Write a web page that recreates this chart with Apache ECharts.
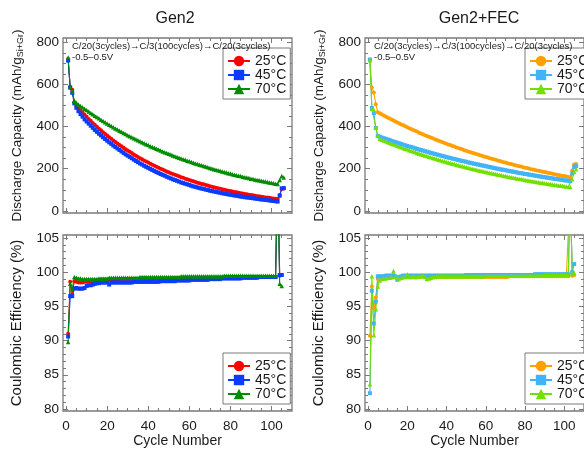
<!DOCTYPE html>
<html>
<head>
<meta charset="utf-8">
<title>Gen2 vs Gen2+FEC cycling</title>
<script src="https://cdn.jsdelivr.net/npm/echarts@6/dist/echarts.min.js"></script>
<style>
  html, body { margin: 0; padding: 0; background: #fff; }
  #chart { width: 584px; height: 449px; }
</style>
</head>
<body>
<div id="chart"></div>
<script>
// values, one entry per cycle (cycle 1 first)
const temps = ['25°C', '45°C', '70°C'];
const xMajor = [0, 20, 40, 60, 80, 100];
const xMinor = [5, 10, 15, 25, 30, 35, 45, 50, 55, 65, 70, 75, 85, 90, 95, 105];
const capMajor = [0, 200, 400, 600, 800];
const capMinor = [50, 100, 150, 250, 300, 350, 450, 500, 550, 650, 700, 750];
const ceMajor = [80, 85, 90, 95, 100, 105];
const ceMinor = [81, 82, 83, 84, 86, 87, 88, 89, 91, 92, 93, 94, 96, 97, 98, 99, 101, 102, 103, 104];

// discharge capacity, mAh/g (Gen2)
const capGen2_25 = [720, 588, 575,
  515, 499, 488, 477, 467, 456, 446, 436, 427, 417,
  408, 399, 390, 382, 373, 365, 357, 349, 342, 334,
  327, 320, 313, 306, 299, 292, 286, 280, 274, 267,
  262, 256, 250, 245, 239, 234, 229, 224, 219, 214,
  209, 205, 200, 196, 192, 187, 183, 179, 175, 171,
  168, 164, 160, 157, 153, 150, 147, 143, 140, 137,
  134, 131, 128, 126, 123, 120, 117, 115, 112, 110,
  107, 105, 103, 100, 98, 96, 94, 92, 90, 88,
  86, 84, 82, 80, 79, 77, 75, 74, 72, 70,
  69, 67, 66, 64, 63, 62, 60, 59, 58, 56,
  75, 104, 106];
const capGen2_45 = [713, 585, 560,
  510, 489, 473, 459, 447, 434, 424, 414, 404, 394,
  384, 375, 366, 358, 349, 341, 333, 325, 318, 310,
  303, 296, 289, 282, 275, 268, 262, 256, 250, 243,
  237, 231, 225, 220, 214, 209, 204, 199, 194, 189,
  184, 180, 175, 171, 167, 162, 158, 154, 150, 146,
  143, 139, 135, 132, 129, 126, 123, 119, 116, 114,
  111, 108, 106, 104, 101, 99, 96, 94, 92, 90,
  88, 86, 84, 82, 80, 78, 77, 75, 73, 72,
  70, 68, 67, 65, 64, 63, 61, 60, 59, 57,
  56, 54, 54, 52, 51, 50, 48, 47, 46, 44,
  72, 107, 108];
const capGen2_70 = [727, 586, 566,
  522, 513, 505, 498, 491, 484, 478, 471, 464, 458,
  451, 445, 439, 432, 426, 420, 414, 408, 403, 397,
  391, 386, 380, 375, 370, 365, 359, 354, 349, 345,
  340, 335, 330, 325, 321, 316, 312, 307, 303, 299,
  295, 291, 286, 282, 278, 275, 271, 267, 263, 259,
  256, 252, 249, 245, 242, 238, 235, 232, 228, 225,
  222, 219, 216, 213, 210, 207, 204, 201, 198, 195,
  193, 190, 187, 184, 182, 179, 177, 174, 172, 169,
  167, 165, 162, 160, 158, 156, 153, 151, 149, 147,
  145, 143, 141, 139, 137, 135, 133, 131, 129, 128,
  146, 165, 158];

// discharge capacity, mAh/g (Gen2+FEC)
const capFEC_25 = [715, 585, 562, 506,
  468, 463, 458, 453, 448, 443, 438, 433, 429, 424,
  419, 415, 410, 406, 401, 397, 392, 388, 384, 380,
  376, 371, 367, 363, 359, 355, 352, 348, 344, 340,
  336, 333, 329, 326, 322, 318, 315, 312, 308, 305,
  301, 298, 295, 292, 288, 285, 282, 279, 276, 273,
  270, 267, 264, 261, 258, 256, 253, 250, 247, 245,
  242, 239, 237, 234, 231, 229, 226, 224, 222, 219,
  217, 214, 212, 210, 207, 205, 203, 201, 198, 196,
  194, 192, 190, 188, 186, 184, 182, 180, 178, 176,
  174, 172, 170, 168, 166, 165, 163, 161, 159,
  192, 220, 222];
const capFEC_45 = [718, 488, 464, 393,
  355, 352, 348, 345, 342, 339, 336, 332, 329, 326,
  323, 320, 317, 314, 311, 308, 305, 303, 300, 297,
  294, 291, 289, 286, 283, 281, 278, 275, 273, 270,
  268, 265, 263, 260, 258, 255, 253, 251, 248, 246,
  244, 241, 239, 237, 235, 233, 230, 228, 226, 224,
  222, 220, 218, 216, 214, 212, 210, 208, 206, 204,
  202, 200, 198, 196, 195, 193, 191, 189, 187, 186,
  184, 182, 180, 179, 177, 175, 174, 172, 171, 169,
  167, 166, 164, 163, 161, 160, 158, 157, 155, 154,
  152, 151, 150, 148, 147, 145, 144, 143, 141,
  178, 208, 212];
const capFEC_70 = [715, 485, 480, 395, 358,
  342, 338, 334, 330, 327, 323, 319, 316, 312, 309,
  305, 302, 298, 295, 292, 288, 285, 282, 279, 275,
  272, 269, 266, 263, 260, 257, 254, 251, 249, 246,
  243, 240, 237, 235, 232, 230, 227, 224, 222, 219,
  217, 214, 212, 210, 207, 205, 202, 200, 198, 196,
  193, 191, 189, 187, 185, 183, 181, 179, 177, 175,
  173, 171, 169, 167, 165, 163, 161, 159, 158, 156,
  154, 152, 151, 149, 147, 145, 144, 142, 141, 139,
  137, 136, 134, 133, 131, 130, 128, 127, 125, 124,
  123, 121, 120, 119, 117, 116, 115, 113,
  150, 185, 198];

// coulombic efficiency, % (Gen2)
const ceGen2_25 = [
  91.0, 98.6, 96.8, 98.7, 98.6, 98.5, 98.5, 98.5, 98.6, 98.6,
  98.7, 98.7, 98.7, 98.8, 98.8, 98.8, 98.8, 98.9, 98.9, 98.9,
  98.9, 98.9, 98.9, 98.9, 98.9, 99.0, 99.0, 99.0, 99.0, 99.0,
  99.0, 99.0, 99.0, 98.9, 98.9, 98.8, 98.8, 98.9, 98.9, 98.9,
  99.0, 99.0, 99.0, 99.0, 99.0, 99.0, 99.0, 99.0, 99.0, 99.0,
  99.0, 99.1, 99.1, 99.1, 99.1, 99.1, 99.1, 99.1, 99.1, 99.1,
  99.1, 99.1, 99.1, 99.1, 99.1, 99.1, 99.1, 99.2, 99.2, 99.2,
  99.2, 99.2, 99.2, 99.2, 99.2, 99.2, 99.2, 99.2, 99.2, 99.2,
  99.2, 99.2, 99.3, 99.3, 99.3, 99.3, 99.3, 99.3, 99.3, 99.3,
  99.3, 99.3, 99.3, 99.3, 99.3, 99.3, 99.3, 99.3, 99.3, 99.3,
  99.3, 99.3, 115, 99.5, 99.6];
const ceGen2_45 = [
  90.6, 96.5, 96.5, 97.6, 97.7, 97.6, 97.6, 97.6, 97.7, 98.0,
  98.1, 98.1, 98.2, 98.3, 98.4, 98.4, 98.5, 98.5, 98.5, 98.5,
  98.2, 98.5, 98.5, 98.5, 98.5, 98.5, 98.5, 98.5, 98.5, 98.5,
  98.5, 98.5, 98.6, 98.6, 98.6, 98.6, 98.6, 98.6, 98.6, 98.6,
  98.6, 98.6, 98.6, 98.6, 98.6, 98.7, 98.7, 98.7, 98.7, 98.7,
  98.7, 98.7, 98.7, 98.8, 98.8, 98.8, 98.8, 98.8, 98.8, 98.8,
  98.9, 98.9, 98.9, 98.9, 98.9, 98.9, 98.9, 98.9, 98.9, 99.0,
  99.0, 99.0, 99.0, 99.0, 99.0, 99.1, 99.1, 99.1, 99.1, 99.1,
  99.1, 99.1, 99.1, 99.1, 99.1, 99.2, 99.2, 99.2, 99.2, 99.2,
  99.2, 99.2, 99.2, 99.3, 99.3, 99.3, 99.3, 99.3, 99.3, 99.3,
  99.3, 99.3, 115, 99.6, 99.6];
const ceGen2_70 = [
  89.8, 98.3, 97.5, 99.3, 99.2, 99.1, 99.1, 99.0, 99.0, 99.0,
  99.0, 99.0, 99.0, 99.0, 99.0, 99.1, 99.1, 99.1, 99.1, 99.1,
  99.2, 99.2, 99.2, 99.2, 99.2, 99.2, 99.2, 99.2, 99.2, 99.2,
  99.2, 99.2, 99.2, 99.2, 99.2, 99.3, 99.3, 99.3, 99.3, 99.3,
  99.3, 99.3, 99.3, 99.3, 99.3, 99.3, 99.3, 99.3, 99.3, 99.3,
  99.3, 99.3, 99.3, 99.3, 99.3, 99.4, 99.4, 99.4, 99.4, 99.4,
  99.4, 99.4, 99.4, 99.4, 99.4, 99.4, 99.4, 99.4, 99.4, 99.4,
  99.4, 99.4, 99.4, 99.4, 99.4, 99.4, 99.5, 99.5, 99.5, 99.5,
  99.5, 99.5, 99.5, 99.5, 99.5, 99.5, 99.5, 99.5, 99.5, 99.5,
  99.5, 99.5, 99.5, 99.5, 99.5, 99.5, 99.5, 99.5, 99.5, 99.5,
  99.5, 99.5, 115, 98.3, 98.0];

// coulombic efficiency, % (Gen2+FEC)
const ceFEC_25 = [
  90.7, 97.9, 94.8, 96.3, 99.0, 99.2, 99.2, 99.2, 99.2, 99.3,
  99.3, 99.2, 99.3, 99.3, 99.2, 99.3, 99.3, 99.3, 99.3, 99.4,
  99.3, 99.3, 99.3, 99.3, 99.3, 99.3, 99.3, 99.4, 99.3, 99.2,
  99.3, 99.3, 99.3, 99.3, 99.3, 99.3, 99.3, 99.3, 99.3, 99.3,
  99.3, 99.3, 99.3, 99.3, 99.3, 99.3, 99.3, 99.3, 99.3, 99.3,
  99.3, 99.3, 99.3, 99.3, 99.3, 99.4, 99.3, 99.3, 99.3, 99.3,
  99.3, 99.3, 99.3, 99.3, 99.3, 99.3, 99.3, 99.3, 99.3, 99.3,
  99.3, 99.4, 99.4, 99.4, 99.4, 99.4, 99.4, 99.4, 99.4, 99.4,
  99.4, 99.4, 99.4, 99.4, 99.4, 99.4, 99.4, 99.4, 99.4, 99.4,
  99.4, 99.4, 99.4, 99.4, 99.4, 99.4, 99.4, 99.4, 99.4, 99.4,
  99.4, 99.4, 112, 99.5, 99.6];
const ceFEC_45 = [
  82.3, 97.3, 92.5, 95.7, 99.4, 99.4, 99.4, 99.4, 99.5, 99.5,
  99.5, 99.5, 99.5, 99.4, 98.9, 99.3, 99.4, 99.5, 99.5, 99.5,
  99.5, 99.5, 99.5, 99.5, 99.5, 99.5, 99.5, 99.5, 99.5, 99.5,
  99.5, 99.5, 99.5, 99.5, 99.5, 99.5, 99.5, 99.5, 99.5, 99.5,
  99.5, 99.5, 99.5, 99.5, 99.5, 99.5, 99.5, 99.5, 99.5, 99.6,
  99.6, 99.6, 99.6, 99.6, 99.6, 99.6, 99.6, 99.6, 99.6, 99.6,
  99.6, 99.6, 99.6, 99.6, 99.6, 99.6, 99.6, 99.6, 99.6, 99.6,
  99.6, 99.6, 99.6, 99.6, 99.6, 99.6, 99.6, 99.6, 99.6, 99.6,
  99.6, 99.6, 99.6, 99.6, 99.7, 99.7, 99.7, 99.7, 99.7, 99.7,
  99.7, 99.7, 99.7, 99.7, 99.7, 99.7, 99.7, 99.7, 99.7, 99.7,
  99.7, 99.7, 112, 100.0, 101.2];
const ceFEC_70 = [
  83.6, 99.4, 90.8, 94.6, 97.9, 98.8, 99.0, 99.1, 99.1, 99.2,
  99.2, 99.3, 100.2, 99.3, 99.2, 99.1, 99.2, 99.3, 99.3, 99.7,
  99.3, 99.3, 99.4, 99.3, 99.3, 99.4, 99.4, 99.6, 99.3, 99.0,
  99.1, 99.2, 99.3, 99.3, 99.4, 99.4, 99.4, 99.4, 99.4, 99.4,
  99.4, 99.4, 99.4, 99.4, 99.4, 99.4, 99.4, 99.4, 99.4, 99.4,
  99.4, 99.4, 99.4, 99.4, 99.4, 99.4, 99.4, 99.4, 99.4, 99.5,
  99.5, 99.5, 99.5, 99.5, 99.5, 99.5, 99.5, 99.5, 99.5, 99.5,
  99.5, 99.5, 99.5, 99.5, 99.5, 99.5, 99.5, 99.5, 99.5, 99.5,
  99.5, 99.5, 99.5, 99.5, 99.5, 99.5, 99.5, 99.5, 99.5, 99.6,
  99.6, 99.6, 99.6, 99.6, 99.6, 99.6, 99.6, 99.6, 99.6, 99.6,
  99.6, 99.6, 112, 99.8, 99.9];

const font = '"Liberation Sans", Arial, sans-serif';
const gray = '#7a7a7a';
const ink = '#1a1a1a';

const panels = [
  { prefix: 'Gen2', colors: ['#ff0000', '#0a3cff', '#008c00'], left: 63,
    cap: [capGen2_25, capGen2_45, capGen2_70], ce: [ceGen2_25, ceGen2_45, ceGen2_70] },
  { prefix: 'FEC', colors: ['#ffa000', '#40b4f8', '#70e000'], left: 365,
    cap: [capFEC_25, capFEC_45, capFEC_70], ce: [ceFEC_25, ceFEC_45, ceFEC_70] }
];
const symbols = ['circle', 'rect', 'triangle'];

const grids = [];
const xAxis = [];
const yAxis = [];
const series = [];
const legend = [];

function tick(vals, len) {
  return { inside: true, length: len, customValues: vals, lineStyle: { color: gray, width: 1 } };
}

function addXAxes(g, labels) {
  const base = { type: 'value', gridIndex: g, min: -1.5, max: 110, splitLine: { show: false },
    axisLine: { show: false, onZero: false } };
  xAxis.push(Object.assign({}, base, { position: 'bottom', axisTick: tick(xMajor, 5),
    axisLabel: { show: labels, customValues: xMajor, margin: 8, fontSize: 13.5, color: ink, fontFamily: font },
    name: labels ? 'Cycle Number' : '', nameLocation: 'middle', nameGap: 23,
    nameTextStyle: { fontSize: 14, color: ink, fontFamily: font } }));
  xAxis.push(Object.assign({}, base, { position: 'bottom', axisTick: tick(xMinor, 3), axisLabel: { show: false } }));
  xAxis.push(Object.assign({}, base, { position: 'top', axisTick: tick(xMajor, 5), axisLabel: { show: false } }));
  xAxis.push(Object.assign({}, base, { position: 'top', axisTick: tick(xMinor, 3), axisLabel: { show: false } }));
}

function addYAxes(g, min, max, major, minor, name, nameSize, nameGap) {
  const base = { type: 'value', gridIndex: g, min: min, max: max, splitLine: { show: false },
    axisLine: { show: false, onZero: false } };
  yAxis.push(Object.assign({}, base, { position: 'left', axisTick: tick(major, 5),
    axisLabel: { customValues: major, margin: 4, fontSize: 13.5, color: ink, fontFamily: font },
    name: name, nameLocation: 'middle', nameGap: nameGap,
    nameTextStyle: { color: ink, fontFamily: font, fontSize: nameSize,
      rich: { t: { fontSize: nameSize, color: ink, fontFamily: font },
              s: { fontSize: 9, color: ink, fontFamily: font, padding: [7, 0, 0, 0] } } } }));
  yAxis.push(Object.assign({}, base, { position: 'left', axisTick: tick(minor, 3), axisLabel: { show: false } }));
  yAxis.push(Object.assign({}, base, { position: 'right', axisTick: tick(major, 5), axisLabel: { show: false } }));
  yAxis.push(Object.assign({}, base, { position: 'right', axisTick: tick(minor, 3), axisLabel: { show: false } }));
}

panels.forEach(p => {
  const names = temps.map(t => p.prefix + ' ' + t);
  [['cap', 38, 175], ['ce', 235, 178]].forEach(([kind, top, height]) => {
    const g = grids.length;
    grids.push({ left: p.left, top: top, width: 229, height: height, show: true,
      borderColor: gray, borderWidth: 1.3, backgroundColor: 'transparent' });
    addXAxes(g, kind === 'ce');
    if (kind === 'cap') {
      addYAxes(g, -10, 820, capMajor, capMinor, '{t|Discharge Capacity (mAh/g}{s|Si+Gr}{t|)}', 13.5, 38);
    } else {
      addYAxes(g, 79.7, 105.45, ceMajor, ceMinor, 'Coulombic Efficiency (%)', 15, 39);
    }
    p[kind].forEach((vals, si) => {
      series.push({
        type: 'line', name: names[si], xAxisIndex: g * 4, yAxisIndex: g * 4,
        data: vals.map((v, i) => [i + 1, v]),
        symbol: symbols[si], symbolSize: si === 2 ? 4.5 : 4,
        lineStyle: { color: p.colors[si], width: 1.1 },
        itemStyle: { color: p.colors[si] },
        clip: true, animation: false
      });
    });
    legend.push({
      data: names, orient: 'vertical', left: p.left + 160, top: kind === 'cap' ? 48 : 353,
      itemWidth: 22, itemHeight: 13, itemGap: 0, padding: [6, 4, 3, 4],
      borderColor: gray, borderWidth: 1, backgroundColor: '#fff', selectedMode: false,
      textStyle: { fontSize: 14, color: ink, fontFamily: font },
      formatter: n => n.split(' ')[1]
    });
  });
});

function label(x, y, text, size, align) {
  return { type: 'text', x: x, y: y, z: 10,
    style: { text: text, font: size + 'px ' + font, fill: ink, align: align || 'left', verticalAlign: 'middle' } };
}

const graphic = [
  label(175, 19, 'Gen2', 16, 'center'),
  label(479, 19, 'Gen2+FEC', 16, 'center'),
  label(72, 46, 'C/20(3cycles)→C/3(100cycles)→C/20(3cycles)', 9.5),
  label(72, 57, '-0.5–0.5V', 9.5),
  label(374, 46, 'C/20(3cycles)→C/3(100cycles)→C/20(3cycles)', 9.5),
  label(374, 57, '-0.5–0.5V', 9.5)
];

const chart = echarts.init(document.getElementById('chart'), null, { renderer: 'canvas' });
chart.setOption({
  animation: false,
  backgroundColor: '#fff',
  grid: grids,
  xAxis: xAxis,
  yAxis: yAxis,
  legend: legend,
  graphic: graphic,
  series: series
});
</script>
</body>
</html>
